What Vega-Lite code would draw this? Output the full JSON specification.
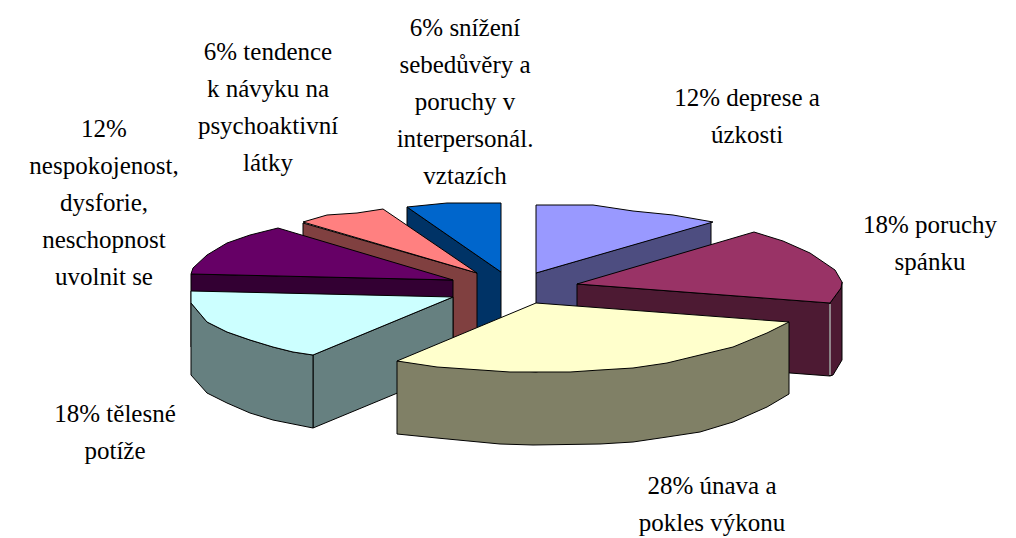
{
"$schema":"https://vega.github.io/schema/vega-lite/v6.json",
"autosize":"none",
"width":1016,"height":538,
"padding":0,
"background":"white",
"view":{"stroke":null},
"encoding":{
"x":{"field":"x","type":"quantitative","scale":{"domain":[0,1016],"nice":false,"zero":false},"axis":null},
"y":{"field":"y","type":"quantitative","scale":{"domain":[538,0],"nice":false,"zero":false},"axis":null}
},
"layer":[
{"data":{"values":[
{"part":"deprese side","i":0,"x":536,"y":273},{"part":"deprese side","i":1,"x":711,"y":222},{"part":"deprese side","i":2,"x":711,"y":295},{"part":"deprese side","i":3,"x":536,"y":346},{"part":"deprese side","i":4,"x":536,"y":273},
{"part":"deprese top","i":0,"x":536,"y":205},{"part":"deprese top","i":1,"x":593,"y":205},{"part":"deprese top","i":2,"x":633,"y":211},{"part":"deprese top","i":3,"x":673,"y":215},{"part":"deprese top","i":4,"x":713,"y":222},{"part":"deprese top","i":5,"x":536,"y":273},{"part":"deprese top","i":6,"x":536,"y":205},
{"part":"sebedůvěra side","i":0,"x":407,"y":207},{"part":"sebedůvěra side","i":1,"x":501,"y":272},{"part":"sebedůvěra side","i":2,"x":501,"y":345},{"part":"sebedůvěra side","i":3,"x":407,"y":280},{"part":"sebedůvěra side","i":4,"x":407,"y":207},
{"part":"sebedůvěra top","i":0,"x":407,"y":207},{"part":"sebedůvěra top","i":1,"x":447,"y":203},{"part":"sebedůvěra top","i":2,"x":501,"y":203},{"part":"sebedůvěra top","i":3,"x":501,"y":272},{"part":"sebedůvěra top","i":4,"x":407,"y":207},
{"part":"návyk side","i":0,"x":303,"y":223},{"part":"návyk side","i":1,"x":477,"y":273},{"part":"návyk side","i":2,"x":477,"y":346},{"part":"návyk side","i":3,"x":303,"y":296},{"part":"návyk side","i":4,"x":303,"y":223},
{"part":"návyk top","i":0,"x":477,"y":273},{"part":"návyk top","i":1,"x":303,"y":222},{"part":"návyk top","i":2,"x":327,"y":215},{"part":"návyk top","i":3,"x":357,"y":213},{"part":"návyk top","i":4,"x":383,"y":209},{"part":"návyk top","i":5,"x":477,"y":273},
{"part":"dysforie side","i":0,"x":191,"y":274},{"part":"dysforie side","i":1,"x":453,"y":280},{"part":"dysforie side","i":2,"x":453,"y":353},{"part":"dysforie side","i":3,"x":191,"y":347},{"part":"dysforie side","i":4,"x":191,"y":274},
{"part":"dysforie top","i":0,"x":453,"y":280},{"part":"dysforie top","i":1,"x":191,"y":274},{"part":"dysforie top","i":2,"x":193,"y":268},{"part":"dysforie top","i":3,"x":207,"y":255},{"part":"dysforie top","i":4,"x":227,"y":243},{"part":"dysforie top","i":5,"x":250,"y":235},{"part":"dysforie top","i":6,"x":278,"y":228},{"part":"dysforie top","i":7,"x":453,"y":280},
{"part":"tělesné side","i":0,"x":313,"y":355},{"part":"tělesné side","i":1,"x":453,"y":297},{"part":"tělesné side","i":2,"x":453,"y":370},{"part":"tělesné side","i":3,"x":313,"y":428},{"part":"tělesné side","i":4,"x":313,"y":355},
{"part":"tělesné rim","i":0,"x":191,"y":303},{"part":"tělesné rim","i":1,"x":191,"y":375},{"part":"tělesné rim","i":2,"x":207,"y":393},{"part":"tělesné rim","i":3,"x":227,"y":403},{"part":"tělesné rim","i":4,"x":250,"y":413},{"part":"tělesné rim","i":5,"x":273,"y":420},{"part":"tělesné rim","i":6,"x":313,"y":428},{"part":"tělesné rim","i":7,"x":313,"y":355},{"part":"tělesné rim","i":8,"x":293,"y":352},{"part":"tělesné rim","i":9,"x":273,"y":347},{"part":"tělesné rim","i":10,"x":250,"y":340},{"part":"tělesné rim","i":11,"x":227,"y":332},{"part":"tělesné rim","i":12,"x":207,"y":322},{"part":"tělesné rim","i":13,"x":191,"y":303},
{"part":"tělesné top","i":0,"x":453,"y":297},{"part":"tělesné top","i":1,"x":191,"y":291},{"part":"tělesné top","i":2,"x":191,"y":303},{"part":"tělesné top","i":3,"x":207,"y":322},{"part":"tělesné top","i":4,"x":227,"y":332},{"part":"tělesné top","i":5,"x":250,"y":340},{"part":"tělesné top","i":6,"x":273,"y":347},{"part":"tělesné top","i":7,"x":293,"y":352},{"part":"tělesné top","i":8,"x":313,"y":355},{"part":"tělesné top","i":9,"x":453,"y":297},
{"part":"spánek side","i":0,"x":577,"y":284},{"part":"spánek side","i":1,"x":830,"y":303},{"part":"spánek side","i":2,"x":830,"y":376},{"part":"spánek side","i":3,"x":577,"y":357},{"part":"spánek side","i":4,"x":577,"y":284},
{"part":"spánek rim","i":0,"x":830,"y":303},{"part":"spánek rim","i":1,"x":841,"y":288},{"part":"spánek rim","i":2,"x":842,"y":282},{"part":"spánek rim","i":3,"x":842,"y":360},{"part":"spánek rim","i":4,"x":833,"y":375},{"part":"spánek rim","i":5,"x":830,"y":376},{"part":"spánek rim","i":6,"x":830,"y":303},
{"part":"spánek top","i":0,"x":577,"y":284},{"part":"spánek top","i":1,"x":754,"y":232},{"part":"spánek top","i":2,"x":783,"y":241},{"part":"spánek top","i":3,"x":810,"y":253},{"part":"spánek top","i":4,"x":835,"y":270},{"part":"spánek top","i":5,"x":842,"y":282},{"part":"spánek top","i":6,"x":841,"y":288},{"part":"spánek top","i":7,"x":830,"y":303},{"part":"spánek top","i":8,"x":577,"y":284},
{"part":"únava side","i":0,"x":397,"y":361},{"part":"únava side","i":1,"x":397,"y":434},{"part":"únava side","i":2,"x":437,"y":438},{"part":"únava side","i":3,"x":500,"y":444},{"part":"únava side","i":4,"x":533,"y":445},{"part":"únava side","i":5,"x":600,"y":444},{"part":"únava side","i":6,"x":633,"y":442},{"part":"únava side","i":7,"x":667,"y":437},{"part":"únava side","i":8,"x":700,"y":432},{"part":"únava side","i":9,"x":733,"y":422},{"part":"únava side","i":10,"x":767,"y":407},{"part":"únava side","i":11,"x":789,"y":394},{"part":"únava side","i":12,"x":789,"y":322},{"part":"únava side","i":13,"x":536,"y":372},{"part":"únava side","i":14,"x":397,"y":361},
{"part":"únava top","i":0,"x":536,"y":303},{"part":"únava top","i":1,"x":789,"y":322},{"part":"únava top","i":2,"x":767,"y":333},{"part":"únava top","i":3,"x":733,"y":347},{"part":"únava top","i":4,"x":700,"y":355},{"part":"únava top","i":5,"x":667,"y":363},{"part":"únava top","i":6,"x":633,"y":368},{"part":"únava top","i":7,"x":600,"y":370},{"part":"únava top","i":8,"x":570,"y":372},{"part":"únava top","i":9,"x":510,"y":372},{"part":"únava top","i":10,"x":437,"y":367},{"part":"únava top","i":11,"x":397,"y":361},{"part":"únava top","i":12,"x":536,"y":303}
]},
"mark":{"type":"line","filled":true,"stroke":"black","strokeWidth":1,"interpolate":"linear"},
"encoding":{
"order":{"field":"i","type":"quantitative"},
"fill":{"field":"part","type":"nominal","legend":null,"scale":{
"domain":["deprese side","deprese top","sebedůvěra side","sebedůvěra top","návyk side","návyk top","dysforie side","dysforie top","tělesné side","tělesné rim","tělesné top","spánek side","spánek rim","spánek top","únava side","únava top"],
"range":["#4D4D80","#9999FF","#003366","#0066CC","#804040","#FF8080","#330033","#660066","#668080","#668080","#CCFFFF","#4D1A33","#4D1A33","#993366","#808066","#FFFFCC"]}}
}},
{"data":{"values":[{"x":830,"y":304,"i":0},{"x":830,"y":375,"i":1}]},
"mark":{"type":"line","stroke":"white","strokeWidth":1},
"encoding":{"order":{"field":"i","type":"quantitative"}}},
{"data":{"values":[
{"label":"6% snížení\nsebedůvěry a\nporuchy v\ninterpersonál.\nvztazích","x":465,"y":28},
{"label":"6% tendence\nk návyku na\npsychoaktivní\nlátky","x":268,"y":52},
{"label":"12%\nnespokojenost,\ndysforie,\nneschopnost\nuvolnit se","x":104,"y":129},
{"label":"12% deprese a\núzkosti","x":747,"y":98},
{"label":"18% poruchy\nspánku","x":930,"y":225},
{"label":"18% tělesné\npotíže","x":115,"y":414},
{"label":"28% únava a\npokles výkonu","x":712,"y":486}
]},
"mark":{"type":"text","font":"Liberation Serif","fontSize":25,"lineBreak":"\n","lineHeight":37,"align":"center","baseline":"middle","color":"black"},
"encoding":{"text":{"field":"label"}}}
]
}
